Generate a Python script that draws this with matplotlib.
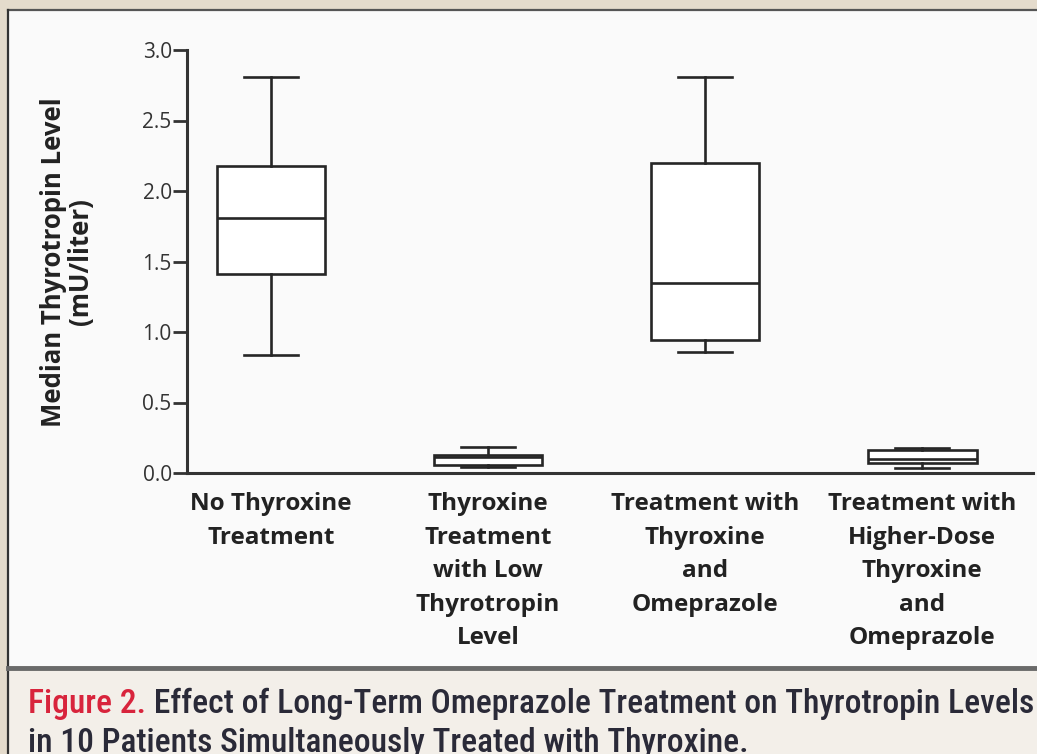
import matplotlib
matplotlib.use("Agg")
import matplotlib.pyplot as plt
from matplotlib.patches import Rectangle
from matplotlib.lines import Line2D
from matplotlib import font_manager as fm

# ---- data ----
categories = ["No Thyroxine\nTreatment",
              "Thyroxine\nTreatment\nwith Low\nThyrotropin\nLevel",
              "Treatment with\nThyroxine\nand\nOmeprazole",
              "Treatment with\nHigher-Dose\nThyroxine\nand\nOmeprazole"]
whislo = [0.84, 0.04, 0.86, 0.035]
q1 = [1.41, 0.06, 0.94, 0.07]
med = [1.81, 0.115, 1.35, 0.10]
q3 = [2.18, 0.13, 2.20, 0.165]
whishi = [2.81, 0.185, 2.81, 0.18]
yticks = [0.0, 0.5, 1.0, 1.5, 2.0, 2.5, 3.0]
ylabel = "Median Thyrotropin Level\n(mU/liter)"
cap_red = "Figure 2."
cap_rest1 = " Effect of Long-Term Omeprazole Treatment on Thyrotropin Levels"
cap_rest2 = "in 10 Patients Simultaneously Treated with Thyroxine."

avail = {f.name for f in fm.fontManager.ttflist}
main_font = "Open Sans" if "Open Sans" in avail else "DejaVu Sans"
cap_font = main_font
for cand in ["Roboto Condensed", "Liberation Sans Narrow", "DejaVu Sans Condensed", "Open Sans"]:
    if cand in avail:
        cap_font = cand
        break

W, H = 1037, 754
fig = plt.figure(figsize=(W / 100, H / 100), dpi=100)
fig.patch.set_facecolor("#e4dbcc")

def fx(px):
    return px / W

def fy(py):
    return 1 - py / H

# white panel
fig.patches.append(Rectangle((fx(8), fy(666)), 1, fy(10) - fy(666), transform=fig.transFigure,
                             facecolor="#fafafa", edgecolor="none", zorder=-5))
# caption area
fig.patches.append(Rectangle((fx(8), 0), 1, fy(670), transform=fig.transFigure,
                             facecolor="#f3efe9", edgecolor="none", zorder=-5))
# borders
fig.lines.append(Line2D([fx(8), 1], [fy(10), fy(10)], transform=fig.transFigure, color="#555555", lw=1.6, zorder=-4))
fig.lines.append(Line2D([fx(8), fx(8)], [0, fy(10)], transform=fig.transFigure, color="#333333", lw=1.6, zorder=-4))
fig.lines.append(Line2D([fx(8), 1], [fy(667.5), fy(667.5)], transform=fig.transFigure, color="#6a6a6a", lw=3.5, zorder=-4))

ax = fig.add_axes([fx(187), fy(473), fx(1033) - fx(187), fy(50) - fy(473)])
ax.set_zorder(2)
ax.set_facecolor("none")

stats = []
for i in range(len(categories)):
    stats.append(dict(whislo=whislo[i], q1=q1[i], med=med[i], q3=q3[i], whishi=whishi[i], fliers=[]))

lc = "#262626"
ax.bxp(stats, positions=range(len(categories)), widths=0.5, capwidths=0.25,
       showfliers=False, patch_artist=True,
       boxprops=dict(facecolor="white", edgecolor=lc, linewidth=1.9),
       medianprops=dict(color=lc, linewidth=1.9),
       whiskerprops=dict(color=lc, linewidth=1.9),
       capprops=dict(color=lc, linewidth=1.9))

ax.set_xlim(-0.387, 3.51)
ax.set_ylim(0, 3.0)
ax.set_yticks(yticks)
ax.set_yticklabels([f"{v:.1f}" for v in yticks], fontsize=15, family=main_font, color="#333333")
ax.set_xticks(range(len(categories)))
ax.set_xticklabels(categories, fontsize=17.5, family=main_font, fontweight="bold",
                   color="#222222", linespacing=1.52)
ax.tick_params(axis="x", length=0, pad=14)
ax.tick_params(axis="y", length=10, width=2, color="#333333", pad=1)
for s in ["top", "right"]:
    ax.spines[s].set_visible(False)
for s in ["left", "bottom"]:
    ax.spines[s].set_linewidth(2.2)
    ax.spines[s].set_color("#333333")

fig.text(fx(67), fy(262), ylabel, rotation=90, ha="center", va="center", fontsize=18.5,
         family=main_font, fontweight="bold", color="#222222", linespacing=1.0)

# caption
fs = 20
t1 = fig.text(fx(28), fy(713), cap_red, fontsize=fs, family=cap_font, color="#d8243c",
              ha="left", va="baseline", fontweight="medium")
fig.canvas.draw()
r = fig.canvas.get_renderer()
bb1 = t1.get_window_extent(r)
t2 = fig.text(bb1.x1 / W, fy(713), cap_rest1, fontsize=fs, family=cap_font, color="#2a2a38",
              ha="left", va="baseline", fontweight="medium")
bb2 = t2.get_window_extent(r)
total = bb2.x1 - bb1.x0
scale = (1033 - 28) / total
t1.set_fontsize(fs * scale)
t2.set_fontsize(fs * scale)
fig.canvas.draw()
bb1 = t1.get_window_extent(r)
t2.set_x(bb1.x1 / W)
fig.text(fx(28), fy(752), cap_rest2, fontsize=fs * scale, family=cap_font, color="#2a2a38",
         ha="left", va="baseline", fontweight="medium")

fig.savefig("out.png", dpi=100, facecolor=fig.get_facecolor())
